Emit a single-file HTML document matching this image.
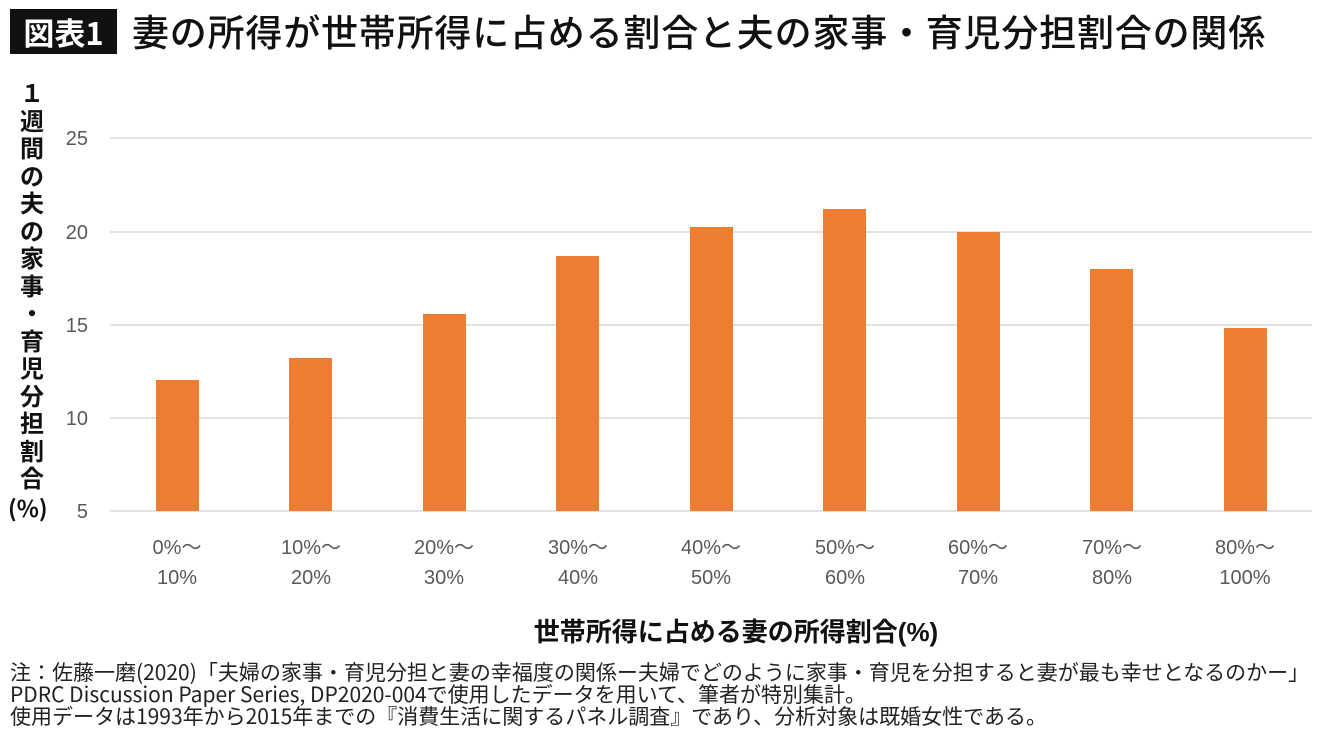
<!DOCTYPE html>
<html><head><meta charset="utf-8"><style>
body{margin:0;width:1340px;height:739px;background:#fff;overflow:hidden;font-family:"Liberation Sans","Noto Sans CJK JP",sans-serif;position:relative}
.box{position:absolute;left:10px;top:9px;width:107px;height:45px;background:#111;color:#fff;font-size:31px;font-weight:bold;line-height:45px;text-align:center;font-family:"Noto Sans CJK JP",sans-serif}
.title{position:absolute;left:132px;top:5px;font-size:37px;line-height:50px;font-weight:500;color:#111;font-family:"Noto Sans CJK JP",sans-serif;white-space:nowrap;letter-spacing:0.8px}
.yt{position:absolute;left:18px;top:78px;width:28px;font-size:24px;line-height:27.5px;font-weight:bold;text-align:center;color:#111;font-family:"Noto Sans CJK JP",sans-serif}
.yp{position:absolute;left:8px;top:490px;font-size:23px;font-weight:bold;color:#111;font-family:"Noto Sans CJK JP",sans-serif}
.note{position:absolute;left:10px;font-size:21px;line-height:22px;color:#222;white-space:nowrap;font-family:"Noto Sans CJK JP",sans-serif}
</style></head><body>
<div class="box">図表1</div>
<div class="title">妻の所得が世帯所得に占める割合と夫の家事・育児分担割合の関係</div>
<div class="yt">１<br>週<br>間<br>の<br>夫<br>の<br>家<br>事<br>・<br>育<br>児<br>分<br>担<br>割<br>合</div>
<div class="yp">(%)</div>
<svg width="1340" height="739" style="position:absolute;left:0;top:0" font-family="Liberation Sans, Noto Sans CJK JP, sans-serif">
<g stroke="#d9d9d9" stroke-width="1.5">
<line x1="110" x2="1312" y1="138" y2="138"/><line x1="110" x2="1312" y1="232" y2="232"/><line x1="110" x2="1312" y1="325" y2="325"/><line x1="110" x2="1312" y1="418" y2="418"/><line x1="110" x2="1312" y1="511" y2="511"/>
</g>
<g fill="#595959" font-size="20" text-anchor="end">
<text x="88" y="145">25</text><text x="88" y="239">20</text><text x="88" y="332">15</text><text x="88" y="425">10</text><text x="88" y="518">5</text>
</g>
<g fill="#ED7D31">
<rect x="156" y="380" width="43" height="131"/>
<rect x="289" y="358" width="43" height="153"/>
<rect x="423" y="314" width="43" height="197"/>
<rect x="556" y="256" width="43" height="255"/>
<rect x="690" y="227" width="43" height="284"/>
<rect x="823" y="209" width="43" height="302"/>
<rect x="957" y="232" width="43" height="279"/>
<rect x="1090" y="269" width="43" height="242"/>
<rect x="1224" y="328" width="43" height="183"/>
</g>
<g fill="#595959" font-size="20" text-anchor="middle">
<text x="177" y="554">0%〜</text><text x="177" y="584">10%</text>
<text x="311" y="554">10%〜</text><text x="311" y="584">20%</text>
<text x="444" y="554">20%〜</text><text x="444" y="584">30%</text>
<text x="578" y="554">30%〜</text><text x="578" y="584">40%</text>
<text x="711" y="554">40%〜</text><text x="711" y="584">50%</text>
<text x="845" y="554">50%〜</text><text x="845" y="584">60%</text>
<text x="978" y="554">60%〜</text><text x="978" y="584">70%</text>
<text x="1112" y="554">70%〜</text><text x="1112" y="584">80%</text>
<text x="1245" y="554">80%〜</text><text x="1245" y="584">100%</text>
</g>
<text x="736" y="641" text-anchor="middle" font-size="26" font-weight="bold" fill="#111">世帯所得に占める妻の所得割合(%)</text>
</svg>
<div class="note" style="top:661px">注：佐藤一磨(2020)「夫婦の家事・育児分担と妻の幸福度の関係ー夫婦でどのように家事・育児を分担すると妻が最も幸せとなるのかー」</div>
<div class="note" style="top:683px">PDRC Discussion Paper Series, DP2020-004で使用したデータを用いて、筆者が特別集計。</div>
<div class="note" style="top:705px">使用データは1993年から2015年までの『消費生活に関するパネル調査』であり、分析対象は既婚女性である。</div>
</body></html>
